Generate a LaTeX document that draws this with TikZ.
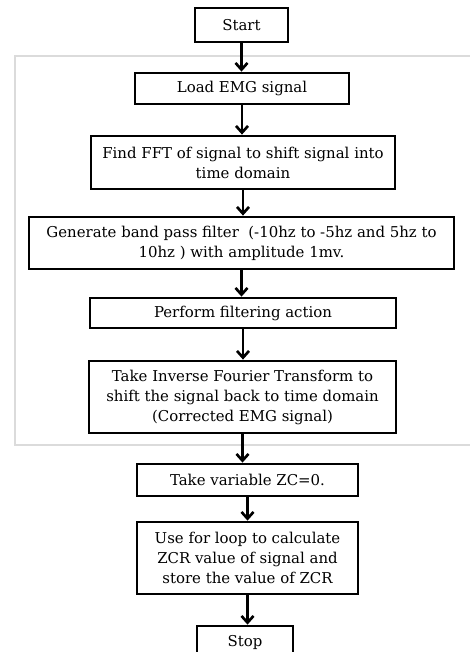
\documentclass[tikz,border=0pt]{standalone}
\usepackage{fontspec}
\setmainfont{DejaVu Serif}
\usepackage{tikz}
\usetikzlibrary{arrows.meta}

\tikzset{
  procbox/.style={draw,line width=2.1pt,align=center,inner sep=1pt},
  flow/.style={-{Straight Barb[length=5pt,width=9pt]},line width=2pt}
}

\begin{document}
\begin{tikzpicture}[x=0.75pt,y=-0.75pt,font=\fontsize{11.2}{15}\selectfont]
\clip (0,0) rectangle (470,652);
% light frame round the filtering part
\draw[black!14,line width=1.5pt] (15,56) rectangle (500,445);
% steps
\node[procbox,minimum width=69.75pt,minimum height=25.5pt] (start) at (241.5,25) {Start};
\node[procbox,minimum width=160.5pt,minimum height=23.25pt] (load) at (242,88.5) {Load EMG signal};
\node[procbox,minimum width=228pt,minimum height=39.75pt] (fft) at (243,162.5)
  {Find FFT of signal to shift signal into\\time domain};
\node[procbox,minimum width=318.75pt,minimum height=39pt] (band) at (241.5,243)
  {Generate band pass filter~ (-10hz to -5hz and 5hz to\\10hz ) with amplitude 1mv.};
\node[procbox,minimum width=229.5pt,minimum height=22.5pt] (filt) at (243,313) {Perform filtering action};
\node[procbox,minimum width=230.25pt,minimum height=54pt] (ifft) at (242.5,397)
  {Take Inverse Fourier Transform to\\shift the signal back to time domain\\(Corrected EMG signal)};
\node[procbox,minimum width=165.75pt,minimum height=24pt] (zc) at (247.5,480) {Take variable ZC=0.};
\node[procbox,minimum width=165.75pt,minimum height=54pt] (zcr) at (247.5,558)
  {Use for loop to calculate\\ZCR value of signal and\\store the value of ZCR};
\node[procbox,minimum width=72pt,minimum height=25.5pt] (stop) at (245,643) {Stop};
% arrows
\draw[flow] (start.south) -- (start.south |- load.north);
\draw[flow] (load.south) -- (load.south |- fft.north);
\draw[flow] (fft.south) -- (fft.south |- band.north);
\draw[flow] (band.south) -- (band.south |- filt.north);
\draw[flow] (filt.south) -- (filt.south |- ifft.north);
\draw[flow] (ifft.south) -- (ifft.south |- zc.north);
\draw[flow] (zc.south) -- (zc.south |- zcr.north);
\draw[flow] (zcr.south) -- (zcr.south |- stop.north);
\end{tikzpicture}
\end{document}
